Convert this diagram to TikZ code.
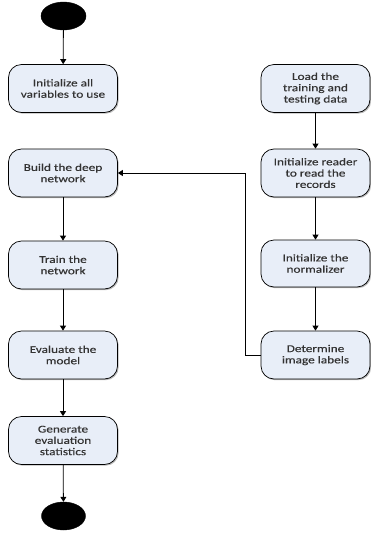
\documentclass[tikz,border=0pt]{standalone}
\usepackage{fontspec}
\setmainfont{Carlito}[FakeStretch=1.28,FakeBold=0.3]
\usetikzlibrary{arrows.meta,shadows,shapes.geometric}
\definecolor{boxfill}{HTML}{E8EEF8}
\tikzset{
  actbox/.style={draw=black, line width=0.7pt, fill=boxfill, rounded corners=13pt,
    minimum width=109pt, minimum height=48pt, align=center, inner sep=2pt,
    font=\fontsize{10.4}{11.3}\selectfont, text=black!80,
    drop shadow={shadow xshift=1.2pt, shadow yshift=-1.2pt, fill=black!45, opacity=0.6}},
  term/.style={ellipse, fill=black, draw=black, minimum width=45pt, minimum height=28pt, inner sep=0pt},
  arr/.style={draw=black, line width=0.8pt, -{Triangle[width=6pt,length=5pt]}},
}
\begin{document}
\begin{tikzpicture}[x=1pt,y=-1pt]
\useasboundingbox (0,0) rectangle (371,533);
\node[term] (start) at (63.5,16) {};
\node[actbox] (b1) at (63,88.5) {Initialize all\\variables to use};
\node[actbox] (b2) at (63,173) {Build the deep\\network};
\node[actbox] (b3) at (63,265) {Train the\\network};
\node[actbox] (b4) at (63,355) {Evaluate the\\model};
\node[actbox] (b5) at (63,440.5) {Generate\\evaluation\\statistics};
\node[term, minimum width=44pt] (stop) at (63.5,516) {};
\node[actbox] (r1) at (315.5,88.5) {Load the\\training and\\testing data};
\node[actbox] (r2) at (315.5,173) {Initialize reader\\to read the\\records};
\node[actbox, minimum height=47pt] (r3) at (315.5,263.5) {Initialize the\\normalizer};
\node[actbox] (r4) at (315.5,355) {Determine\\image labels};
\coordinate (bend) at (245.5,173);
\draw[arr] (start) -- (b1);
\draw[arr] (b2) -- (b3);
\draw[arr] (b3) -- (b4);
\draw[arr] (b4) -- (b5);
\draw[arr] (b5) -- (stop);
\draw[arr] (r1) -- (r2);
\draw[arr] (r2) -- (r3);
\draw[arr] (r3) -- (r4);
\draw[arr] (r4.west) -| (bend) -- (b2.east);
\end{tikzpicture}
\end{document}
